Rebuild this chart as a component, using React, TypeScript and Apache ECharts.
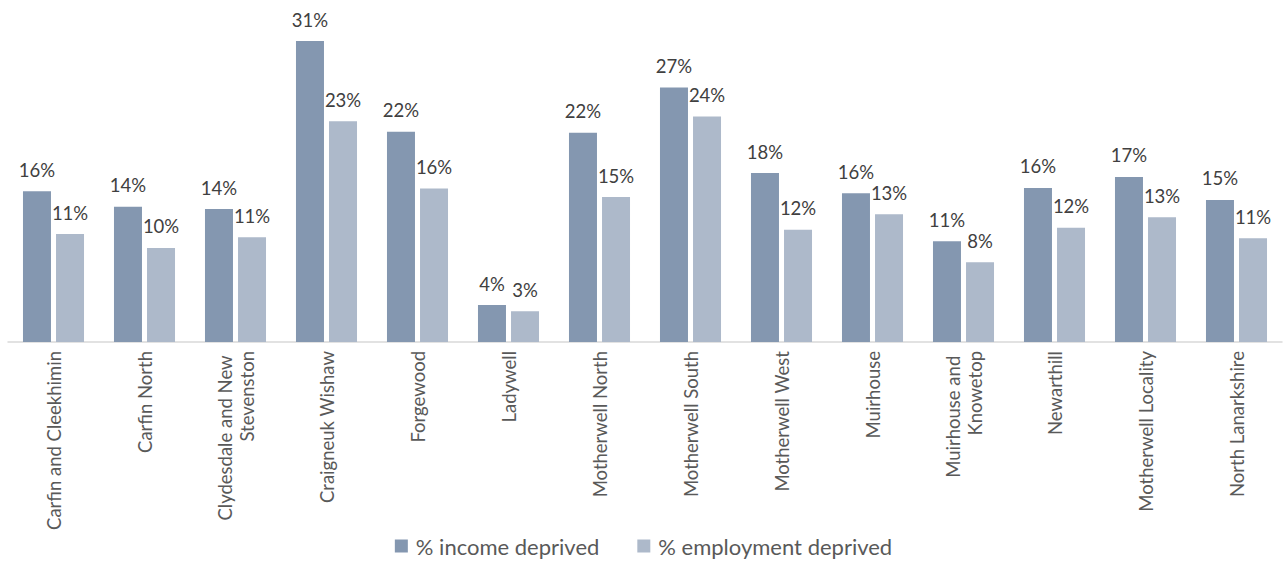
import React, { useEffect, useRef } from "react";
import * as echarts from "echarts";

const categories = [
  "Carfin and Cleekhimin",
  "Carfin North",
  "Clydesdale and New Stevenston",
  "Craigneuk Wishaw",
  "Forgewood",
  "Ladywell",
  "Motherwell North",
  "Motherwell South",
  "Motherwell West",
  "Muirhouse",
  "Muirhouse and Knowetop",
  "Newarthill",
  "Motherwell Locality",
  "North Lanarkshire",
];

const incomeDeprived = [15.7, 14.1, 13.85, 31.35, 21.9, 3.85, 21.8, 26.5, 17.6, 15.5, 10.5, 16.05, 17.2, 14.8];
const employmentDeprived = [11.25, 9.8, 10.9, 23.0, 16.0, 3.2, 15.1, 23.5, 11.7, 13.3, 8.3, 11.9, 13.0, 10.8];

const seriesNames = ["% income deprived", "% employment deprived"];
const colors = ["#8497B0", "#ADB9CA"];

const FONT = "Lato, 'Open Sans', sans-serif";

export default function App() {
  const ref = useRef<HTMLDivElement>(null);
  useEffect(() => {
    if (!ref.current) return;
    const chart = echarts.init(ref.current, undefined, { renderer: "svg" });
    const labelCfg = {
      show: true,
      position: "top" as const,
      distance: 12,
      color: "#404040",
      fontSize: 18.5,
      fontFamily: FONT,
      formatter: (p: any) => Math.round(p.value) + "%",
    };
    chart.setOption({
      animation: false,
      textStyle: { fontFamily: FONT },
      grid: { left: 8, right: 5, top: 6, bottom: 222, containLabel: false },
      legend: {
        bottom: 2,
        left: "center",
        itemWidth: 13,
        itemHeight: 13,
        itemGap: 38,
        icon: "rect",
        textStyle: { color: "#595959", fontSize: 22, fontFamily: FONT, padding: [0, 0, 0, 3] },
        data: seriesNames,
      },
      xAxis: {
        type: "category",
        data: categories,
        axisTick: { show: false },
        axisLine: { lineStyle: { color: "#D9D9D9", width: 1.5 } },
        axisLabel: {
          rotate: 90,
          margin: 9,
          interval: 0,
          color: "#595959",
          fontSize: 18.5,
          fontFamily: FONT,
          width: 188,
          overflow: "break",
          lineHeight: 22,
        },
      },
      yAxis: {
        type: "value",
        min: 0,
        max: 35,
        show: false,
        splitLine: { show: false },
      },
      series: [
        {
          name: seriesNames[0],
          type: "bar",
          data: incomeDeprived,
          barWidth: 28,
          barGap: "18%",
          itemStyle: { color: colors[0] },
          label: labelCfg,
        },
        {
          name: seriesNames[1],
          type: "bar",
          data: employmentDeprived,
          barWidth: 28,
          itemStyle: { color: colors[1] },
          label: labelCfg,
        },
      ],
    });
    return () => chart.dispose();
  }, []);
  return (
    <div
      ref={ref}
      style={{ position: "fixed", left: 0, top: 0, width: 1287, height: 564, background: "#fff" }}
    />
  );
}
